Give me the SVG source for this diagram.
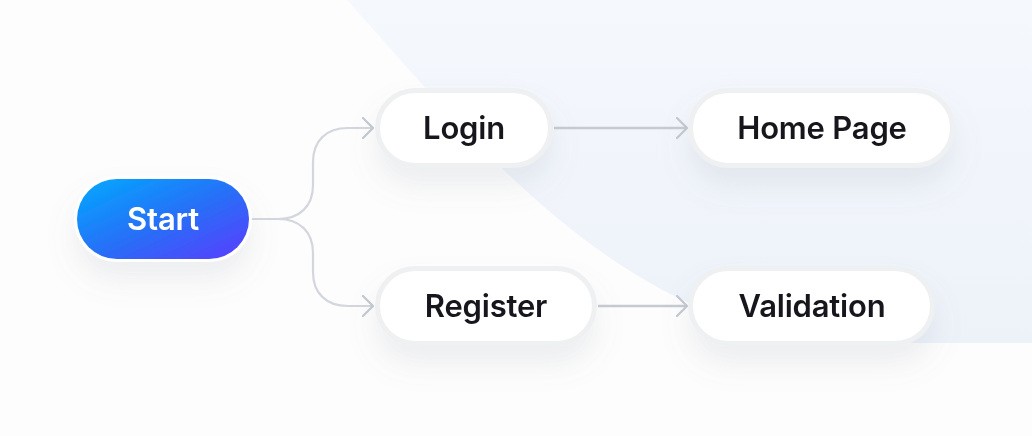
<svg xmlns="http://www.w3.org/2000/svg" width="1032" height="436" viewBox="0 0 1032 436">
  <defs>
    <linearGradient id="bgBlob" x1="0" y1="0" x2="0" y2="1">
      <stop offset="0" stop-color="#f5f8fd"/>
      <stop offset="1" stop-color="#edf2f9"/>
    </linearGradient>
    <linearGradient id="startGrad" x1="0" y1="0" x2="1" y2="1">
      <stop offset="0" stop-color="#00aaff"/>
      <stop offset="0.55" stop-color="#2a6cf7"/>
      <stop offset="1" stop-color="#5b3cff"/>
    </linearGradient>
    <filter id="shadow" x="-30%" y="-40%" width="160%" height="240%">
      <feDropShadow dx="0" dy="18" stdDeviation="14" flood-color="#7d8797" flood-opacity="0.13"/>
    </filter>
    <marker id="chev" viewBox="0 0 12 22" refX="11" refY="11" markerWidth="12" markerHeight="22" markerUnits="userSpaceOnUse" orient="auto">
      <path d="M1,1 L11,11 L1,21" fill="none" stroke="#c3c8cf" stroke-width="2.2" stroke-linecap="round" stroke-linejoin="round"/>
    </marker>
  </defs>
  <style>
    .edge { fill: none; stroke: #d3d7dd; stroke-width: 2.2; }
    .edge-main { fill: none; stroke: #c6cad1; stroke-width: 2.5; }
    .pill { fill: #ffffff; stroke: #eef0f2; stroke-width: 5; }
    .label { font-family: Inter, "Liberation Sans", sans-serif; font-weight: 600; font-size: 31px; fill: #16181d; text-anchor: middle; letter-spacing: -0.2px; }
    .label-start { font-family: Inter, "Liberation Sans", sans-serif; font-weight: 600; font-size: 31px; fill: #ffffff; text-anchor: middle; letter-spacing: -0.2px; }
  </style>

  <rect x="0" y="0" width="1032" height="436" fill="#fdfdfd"/>
  <path d="M347,0 C465,130 600,310 820,343 L1032,343 L1032,0 Z" fill="url(#bgBlob)"/>

  <g id="connectors">
    <path class="edge" d="M250,219 H278 C300,219 313,206 313,185 V162 C313,141 326,128 348,128 H373" marker-end="url(#chev)"/>
    <path class="edge" d="M250,219 H278 C300,219 313,232 313,253 V272 C313,293 326,306 348,306 H373" marker-end="url(#chev)"/>
    <path class="edge-main" d="M554,128 H687" marker-end="url(#chev)"/>
    <path class="edge-main" d="M598,306 H687" marker-end="url(#chev)"/>
  </g>

  <g id="node-start" filter="url(#shadow)">
    <rect x="74" y="176" width="178" height="86" rx="43" fill="#ffffff"/>
    <rect x="77" y="179" width="172" height="80" rx="40" fill="url(#startGrad)"/>
    <text class="label-start" x="163" y="230">Start</text>
  </g>

  <g id="node-login" filter="url(#shadow)">
    <rect class="pill" x="377.5" y="90.5" width="173" height="75" rx="37.5"/>
    <text class="label" x="464" y="139">Login</text>
  </g>

  <g id="node-home" filter="url(#shadow)">
    <rect class="pill" x="690.5" y="90.5" width="262" height="75" rx="37.5"/>
    <text class="label" x="822" y="139">Home Page</text>
  </g>

  <g id="node-register" filter="url(#shadow)">
    <rect class="pill" x="377.5" y="268.5" width="217" height="75" rx="37.5"/>
    <text class="label" x="486" y="317">Register</text>
  </g>

  <g id="node-validation" filter="url(#shadow)">
    <rect class="pill" x="690.5" y="268.5" width="242" height="75" rx="37.5"/>
    <text class="label" x="812" y="317">Validation</text>
  </g>
</svg>
